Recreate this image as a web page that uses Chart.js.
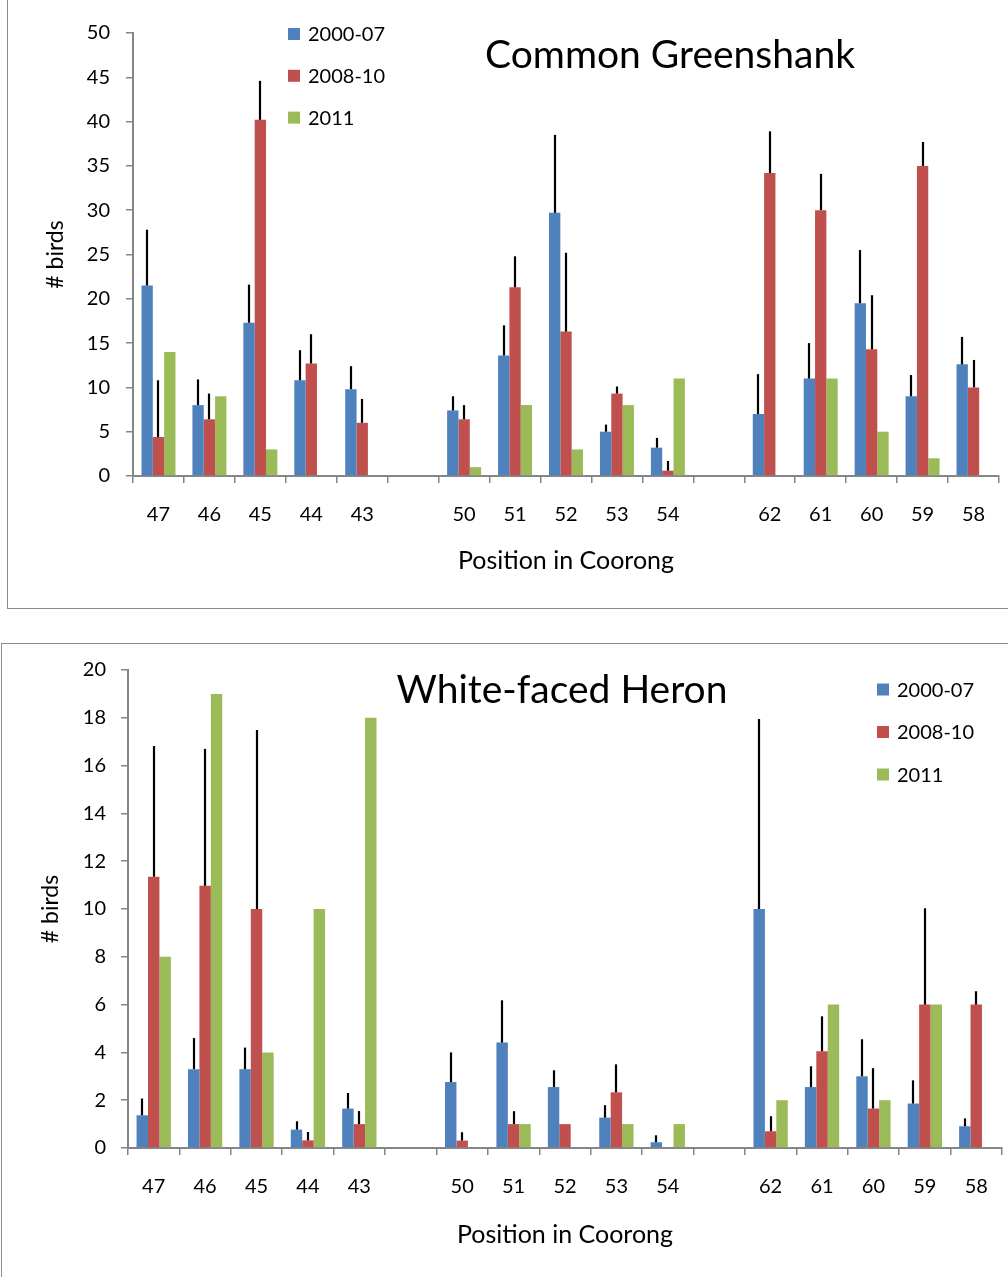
<!DOCTYPE html>
<html><head><meta charset="utf-8">
<script src="https://cdn.jsdelivr.net/npm/chart.js@4.4.0/dist/chart.umd.min.js"></script>
<style>
html,body{margin:0;padding:0;background:#fff;width:1008px;height:1277px;overflow:hidden;position:relative;}
.box{position:absolute;border:1px solid #8c8c8c;box-sizing:border-box;}
canvas{position:absolute;left:0;}
</style></head><body>
<div class="box" style="left:7px;top:-2px;width:1010px;height:611px"></div>
<div class="box" style="left:1px;top:643px;width:1010px;height:640px"></div>
<canvas id="c1" style="top:0;width:1008px;height:608px" width="1008" height="608"></canvas>
<canvas id="c2" style="top:643px;width:1008px;height:634px" width="1008" height="634"></canvas>
<script>
// ---------- DATA ----------
const positions = ['47','46','45','44','43','','50','51','52','53','54','','62','61','60','59','58'];
const seriesNames = ['2000-07','2008-10','2011'];
const seriesColors = ['#4F81BD','#C0504D','#9BBB59'];
const xAxisTitle = 'Position in Coorong';
const yAxisTitle = '# birds';

// Common Greenshank
const gsTitle = 'Common Greenshank';
const gs2000_07 = [21.5, 8.0, 17.3, 10.8, 9.8, null, 7.4, 13.6, 29.7, 5.0, 3.2, null, 7.0, 11.0, 19.5, 9.0, 12.6];
const gs2000_07Err = [6.3, 2.9, 4.3, 3.4, 2.6, null, 1.6, 3.4, 8.8, 0.8, 1.1, null, 4.5, 4.0, 6.0, 2.4, 3.1];
const gs2008_10 = [4.4, 6.4, 40.2, 12.7, 6.0, null, 6.4, 21.3, 16.3, 9.3, 0.6, null, 34.2, 30.0, 14.3, 35.0, 10.0];
const gs2008_10Err = [6.4, 2.9, 4.4, 3.3, 2.7, null, 1.6, 3.5, 8.9, 0.8, 1.1, null, 4.7, 4.1, 6.1, 2.7, 3.1];
const gs2011 = [14, 9, 3, null, null, null, 1, 8, 3, 8, 11, null, null, 11, 5, 2, null];
const gsYTicks = {min: 0, max: 50, step: 5};

// White-faced Heron
const wfhTitle = 'White-faced Heron';
const wfh2000_07 = [1.37, 3.3, 3.3, 0.77, 1.65, null, 2.76, 4.41, 2.55, 1.27, 0.24, null, 10.0, 2.55, 3.0, 1.86, 0.91];
const wfh2000_07Err = [0.7, 1.3, 0.9, 0.35, 0.65, null, 1.24, 1.77, 0.7, 0.52, 0.29, null, 7.95, 0.87, 1.55, 0.97, 0.33];
const wfh2008_10 = [11.35, 10.97, 10.0, 0.32, 1.0, null, 0.31, 1.0, 1.0, 2.33, null, null, 0.7, 4.05, 1.65, 6.0, 6.0];
const wfh2008_10Err = [5.47, 5.73, 7.49, 0.35, 0.55, null, 0.35, 0.54, null, 1.17, null, null, 0.63, 1.46, 1.69, 4.03, 0.56];
const wfh2011 = [8, 19, 4, 10, 18, null, null, 1, null, 1, 1, null, 2, 6, 2, 6, null];
const wfhYTicks = {min: 0, max: 20, step: 2};

// ---------- PLUGINS ----------
const FONT = 'Lato, "Open Sans", sans-serif';
const errorBarPlugin = {
  id: 'errorBars',
  afterDatasetsDraw(chart) {
    const ctx = chart.ctx, ys = chart.scales.y;
    ctx.save();
    ctx.strokeStyle = '#000';
    ctx.lineWidth = 2.2;
    chart.data.datasets.forEach((ds, i) => {
      if (!ds.errPlus) return;
      const meta = chart.getDatasetMeta(i);
      meta.data.forEach((bar, j) => {
        const v = ds.data[j], e = ds.errPlus[j];
        if (v == null || e == null) return;
        const x = Math.round(bar.x);
        ctx.beginPath();
        ctx.moveTo(x, bar.y);
        ctx.lineTo(x, ys.getPixelForValue(v + e));
        ctx.stroke();
      });
    });
    ctx.restore();
  }
};
const annotPlugin = {
  id: 'annot',
  afterDraw(chart, args, o) {
    const ctx = chart.ctx;
    ctx.save();
    ctx.font = o.titleFont;
    ctx.fillStyle = '#000';
    ctx.textAlign = 'center';
    ctx.textBaseline = 'alphabetic';
    ctx.fillText(o.title, o.titleX, o.titleY);
    ctx.font = o.legendFont;
    ctx.textAlign = 'left';
    chart.data.datasets.forEach((ds, i) => {
      const cy = o.legendY + i * o.legendSpacing;
      ctx.fillStyle = ds.backgroundColor;
      ctx.fillRect(o.legendX, cy - 6, 12, 12);
      ctx.fillStyle = '#000';
      ctx.fillText(ds.label, o.legendX + o.legendTextGap, cy + o.legendBaseOffset);
    });
    ctx.restore();
  }
};

function makeChart(id, series, errs, yt, L) {
  const datasets = series.map((d, i) => ({
    label: seriesNames[i],
    data: d,
    errPlus: errs[i],
    backgroundColor: seriesColors[i],
    borderWidth: 0,
    categoryPercentage: 0.667,
    barPercentage: 1.0
  }));
  return new Chart(document.getElementById(id), {
    type: 'bar',
    data: {labels: positions, datasets},
    plugins: [errorBarPlugin, annotPlugin],
    options: {
      responsive: false,
      animation: false,
      devicePixelRatio: 1,
      layout: {padding: L.padding},
      plugins: {
        legend: {display: false},
        tooltip: {enabled: false},
        annot: L.annot
      },
      scales: {
        x: {
          type: 'category',
          offset: true,
          grid: {display: true, offset: true, drawOnChartArea: false, drawTicks: true, tickLength: 7, color: '#868686', lineWidth: 1.5},
          border: {display: true, color: '#868686', width: 2},
          ticks: {color: '#000', font: {family: FONT, size: 20}, padding: L.xTickPad, maxRotation: 0, autoSkip: false},
          title: {display: true, text: xAxisTitle, color: '#000', font: {family: FONT, size: 25}, padding: {top: 0, bottom: L.xTitlePad}},
          afterFit(s) { s.height = 110; }
        },
        y: {
          min: yt.min, max: yt.max,
          grid: {display: true, drawOnChartArea: false, drawTicks: true, tickLength: 7, color: '#868686', lineWidth: 1.5},
          border: {display: true, color: '#868686', width: 2},
          ticks: {stepSize: yt.step, color: '#000', font: {family: FONT, size: 20}, padding: L.yTickPad},
          title: {display: true, text: yAxisTitle, color: '#000', font: {family: FONT, size: 23}, padding: {top: L.yTitlePad, bottom: 0}},
          afterFit(s) { s.width = 110; }
        }
      }
    }
  });
}

makeChart('c1', [gs2000_07, gs2008_10, gs2011], [gs2000_07Err, gs2008_10Err, null], gsYTicks, {
  padding: {left: 23, top: 33, right: 9, bottom: 22},
  xTickPad: 20, xTitlePad: 10, yTickPad: 16, yTitlePad: 19,
  annot: {title: gsTitle, titleX: 670, titleY: 68, titleFont: '39px ' + FONT,
          legendX: 288, legendY: 34, legendSpacing: 41.8, legendTextGap: 20, legendBaseOffset: 7, legendFont: '20px ' + FONT}
});
makeChart('c2', [wfh2000_07, wfh2008_10, wfh2011], [wfh2000_07Err, wfh2008_10Err, null], wfhYTicks, {
  padding: {left: 18, top: 27, right: 5, bottom: 19},
  xTickPad: 20, xTitlePad: 8, yTickPad: 15, yTitlePad: 19,
  annot: {title: wfhTitle, titleX: 562, titleY: 60, titleFont: '39px ' + FONT,
          legendX: 877, legendY: 46.5, legendSpacing: 42.5, legendTextGap: 20, legendBaseOffset: 7, legendFont: '20px ' + FONT}
});
</script>
</body></html>
